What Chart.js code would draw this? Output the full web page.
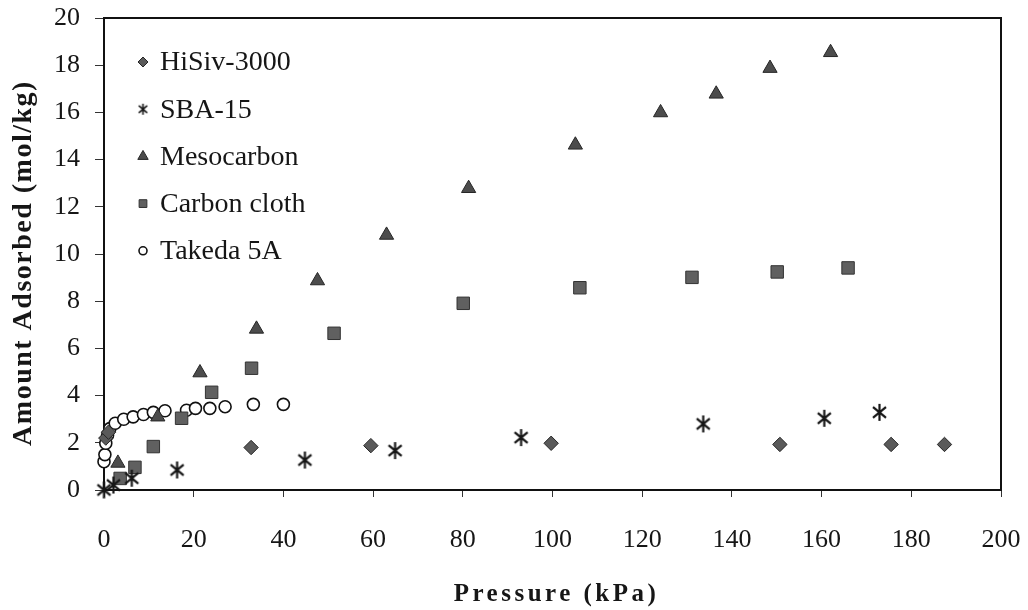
<!DOCTYPE html>
<html>
<head>
<meta charset="utf-8">
<title>Adsorption isotherms</title>
<script src="https://cdn.jsdelivr.net/npm/chart.js@4/dist/chart.umd.min.js"></script>
<style>
  html, body { margin: 0; padding: 0; background: #fff; }
  #isoChart { display: block; }
</style>
</head>
<body>
<canvas id="isoChart" width="1028" height="610"></canvas>
<script>
// series names, in legend order
var seriesNames = ['HiSiv-3000', 'SBA-15', 'Mesocarbon', 'Carbon cloth', 'Takeda 5A'];

// pressure (kPa) / amount adsorbed (mol/kg) for each sample
var hisivP = [0.4, 1.0, 32.8, 59.5, 99.7, 150.7, 175.5, 187.4];
var hisivQ = [2.2, 2.45, 1.8, 1.88, 1.98, 1.93, 1.93, 1.93];

var sbaP = [0, 2.1, 6.2, 16.3, 44.8, 64.9, 93.0, 133.6, 160.6, 172.9];
var sbaQ = [0, 0.21, 0.5, 0.85, 1.27, 1.67, 2.22, 2.8, 3.04, 3.29];

var mesoP = [3.1, 12.0, 21.4, 34.0, 47.6, 63.0, 81.3, 105.1, 124.1, 136.5, 148.5, 162.0];
var mesoQ = [1.14, 3.1, 4.97, 6.82, 8.87, 10.8, 12.78, 14.62, 15.99, 16.78, 17.87, 18.54];

var clothP = [3.6, 6.9, 11.0, 17.3, 24.0, 32.9, 51.3, 80.1, 106.1, 131.1, 150.1, 165.9];
var clothQ = [0.49, 0.96, 1.84, 3.04, 4.14, 5.16, 6.64, 7.91, 8.57, 9.01, 9.24, 9.41];

var takedaP = [0, 0.2, 0.4, 0.8, 1.3, 2.5, 4.4, 6.5, 8.8, 11.0, 13.6, 18.4, 20.4, 23.6, 27.0, 33.3, 40.0];
var takedaQ = [1.2, 1.5, 1.98, 2.33, 2.6, 2.83, 3.0, 3.1, 3.2, 3.29, 3.36, 3.38, 3.46, 3.46, 3.53, 3.63, 3.63];

// axis ranges and labels
var xMin = 0, xMax = 200, xStep = 20;
var yMin = 0, yMax = 20, yStep = 2;
var xTitle = 'Pressure (kPa)';
var yTitle = 'Amount Adsorbed (mol/kg)';

var serifFont = '"Liberation Serif", "Times New Roman", serif';

function toPoints(xs, ys) {
    var pts = [];
    for (var i = 0; i < xs.length; i++) {
        pts.push({ x: xs[i], y: ys[i] });
    }
    return pts;
}

// six-armed asterisk marker, drawn once on a small canvas
function makeAsterisk(size, lineW) {
    var c = document.createElement('canvas');
    c.width = size;
    c.height = size;
    var g = c.getContext('2d');
    var h = size / 2;
    var r = h - 1;
    g.strokeStyle = '#161616';
    g.lineWidth = lineW;
    g.lineCap = 'butt';
    g.beginPath();
    g.moveTo(h, h - r);
    g.lineTo(h, h + r);
    var a = 40 * Math.PI / 180;
    g.moveTo(h - r * Math.cos(a), h - r * Math.sin(a));
    g.lineTo(h + r * Math.cos(a), h + r * Math.sin(a));
    g.moveTo(h - r * Math.cos(a), h + r * Math.sin(a));
    g.lineTo(h + r * Math.cos(a), h - r * Math.sin(a));
    g.stroke();
    return c;
}
var starBig = makeAsterisk(19, 2.2);
var starSmall = makeAsterisk(13, 1.6);

var markerFill = '#5a5a5a';
var markerEdge = '#262626';

var datasets = [
    { label: seriesNames[0], data: toPoints(hisivP, hisivQ), pointStyle: 'rectRot', pointRadius: 7.2,
      backgroundColor: markerFill, borderColor: markerEdge, borderWidth: 1, keyRadius: 5 },
    { label: seriesNames[1], data: toPoints(sbaP, sbaQ), pointStyle: starBig, pointRadius: 9,
      backgroundColor: '#1e1e1e', borderColor: '#1e1e1e', borderWidth: 0, keyImage: starSmall },
    { label: seriesNames[2], data: toPoints(mesoP, mesoQ), pointStyle: 'triangle', pointRadius: 8.2,
      backgroundColor: '#4c4c4c', borderColor: markerEdge, borderWidth: 1, keyRadius: 6 },
    { label: seriesNames[3], data: toPoints(clothP, clothQ), pointStyle: 'rect', pointRadius: 8.8,
      backgroundColor: '#606060', borderColor: '#333', borderWidth: 1, keyRadius: 5.5 },
    { label: seriesNames[4], data: toPoints(takedaP, takedaQ), pointStyle: 'circle', pointRadius: 6,
      backgroundColor: '#ffffff', borderColor: '#111', borderWidth: 1.6, keyRadius: 4 }
];
datasets.forEach(function (ds) {
    ds.showLine = false;
    ds.clip = false;
    ds.pointHoverRadius = ds.pointRadius;
});

// box around the plot area
var plotFrame = {
    id: 'plotFrame',
    beforeDatasetsDraw: function (chart) {
        var a = chart.chartArea;
        var ctx = chart.ctx;
        ctx.save();
        ctx.strokeStyle = '#111';
        ctx.lineWidth = 2;
        ctx.strokeRect(a.left, a.top, a.right - a.left, a.bottom - a.top);
        ctx.restore();
    }
};

// legend inside the plot, upper left
var seriesKey = {
    id: 'seriesKey',
    afterDatasetsDraw: function (chart) {
        var a = chart.chartArea;
        var ctx = chart.ctx;
        ctx.save();
        chart.data.datasets.forEach(function (ds, i) {
            var y = a.top + 44 + i * 47.2;
            var x = a.left + 39;
            ctx.fillStyle = ds.backgroundColor;
            ctx.strokeStyle = ds.borderColor;
            ctx.lineWidth = ds.borderWidth;
            if (ds.keyImage) {
                ctx.drawImage(ds.keyImage, x - ds.keyImage.width / 2, y - ds.keyImage.height / 2);
            } else {
                Chart.helpers.drawPoint(ctx, {
                    pointStyle: ds.pointStyle, radius: ds.keyRadius, rotation: 0, borderWidth: ds.borderWidth
                }, x, y);
            }
            ctx.fillStyle = '#161616';
            ctx.font = '28px ' + serifFont;
            ctx.textAlign = 'left';
            ctx.textBaseline = 'middle';
            ctx.fillText(ds.label, a.left + 56, y + 1);
        });
        ctx.restore();
    }
};

// spaced bold axis titles
var axisTitles = {
    id: 'axisTitles',
    afterDraw: function (chart) {
        var a = chart.chartArea;
        var ctx = chart.ctx;
        ctx.save();
        ctx.fillStyle = '#161616';
        ctx.textAlign = 'center';
        ctx.textBaseline = 'middle';
        ctx.font = 'bold 25px ' + serifFont;
        ctx.letterSpacing = '3.5px';
        ctx.fillText(xTitle, (a.left + a.right) / 2 + 4, a.bottom + 105);
        ctx.translate(a.left - 80, (a.top + a.bottom) / 2 + 9);
        ctx.rotate(-Math.PI / 2);
        ctx.font = 'bold 28px ' + serifFont;
        ctx.letterSpacing = '1.5px';
        ctx.fillText(yTitle, 0, 0);
        ctx.restore();
    }
};

var ctx = document.getElementById('isoChart');
new Chart(ctx, {
    type: 'scatter',
    data: { datasets: datasets },
    options: {
        responsive: false,
        animation: false,
        devicePixelRatio: 1,
        layout: { padding: { top: 18, right: 27, left: 0, bottom: 0 } },
        plugins: {
            legend: { display: false },
            tooltip: { enabled: false }
        },
        scales: {
            x: {
                type: 'linear',
                min: xMin, max: xMax,
                afterFit: function (scale) {
                    scale.height = 120;
                    scale.paddingLeft = 0;
                    scale.paddingRight = 0;
                },
                ticks: {
                    stepSize: xStep,
                    padding: 28,
                    maxRotation: 0,
                    color: '#161616',
                    font: { family: serifFont, size: 26 }
                },
                grid: { drawOnChartArea: false, drawTicks: true, tickLength: 7, color: '#333', lineWidth: 1 },
                border: { display: true, color: '#111', width: 2 }
            },
            y: {
                type: 'linear',
                min: yMin, max: yMax,
                afterFit: function (scale) {
                    scale.width = 104;
                    scale.paddingTop = 0;
                    scale.paddingBottom = 0;
                },
                ticks: {
                    stepSize: yStep,
                    padding: 15,
                    color: '#161616',
                    font: { family: serifFont, size: 26 }
                },
                grid: { drawOnChartArea: false, drawTicks: true, tickLength: 9, color: '#333', lineWidth: 1 },
                border: { display: true, color: '#111', width: 2 }
            }
        }
    },
    plugins: [plotFrame, seriesKey, axisTitles]
});
</script>
</body>
</html>
